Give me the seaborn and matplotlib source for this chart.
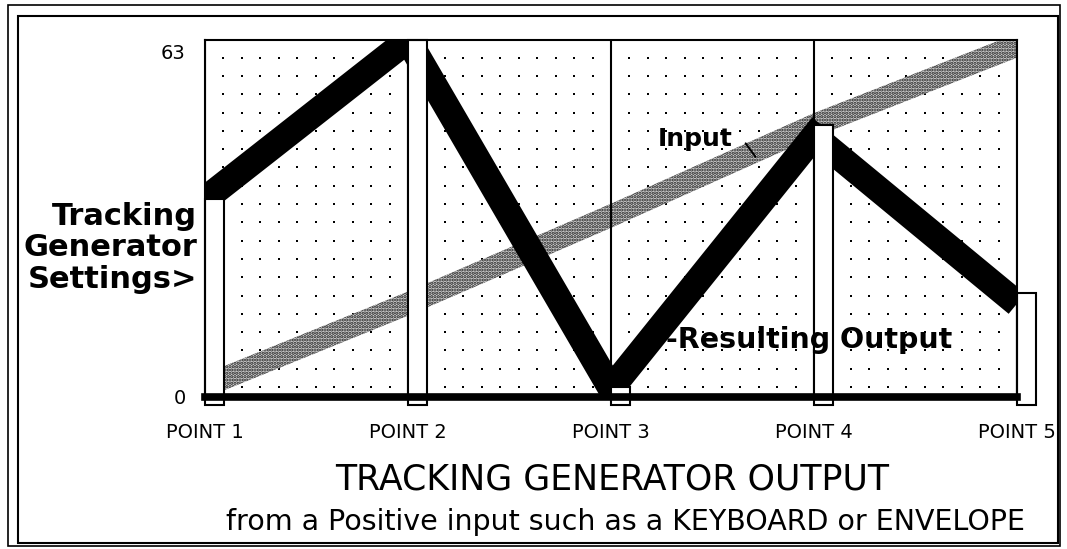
import numpy as np
import pandas as pd
import seaborn as sns
import matplotlib.pyplot as plt
from matplotlib.patches import Rectangle

sns.set_theme(style='white')
plt.rcParams['font.family'] = ['DejaVu Sans']
plt.rcParams['text.color'] = 'black'
plt.rcParams['xtick.color'] = 'black'
plt.rcParams['ytick.color'] = 'black'
plt.rcParams['hatch.linewidth'] = 1.6

points = ['POINT 1', 'POINT 2', 'POINT 3', 'POINT 4', 'POINT 5']
settings = [36, 65, 1.8, 49.5, 19]   # generator settings (white bars)
output = [36, 65, 1.5, 47.5, 17]     # resulting output (black band)
inputs = [2, 17, 33, 49.5, 64]       # positive input (stippled band)
y_ticks = [0, 63]

pos = np.arange(len(points))
df = pd.DataFrame({'pos': pos, 'output': output, 'input': inputs, 'setting': settings})

fig = plt.figure(figsize=(10.67, 5.49), dpi=100)
ax = fig.add_axes([0.1921, 0.2769, 0.7611, 0.6502])

# dotted background grid
gx = [p + k / 11 for p in range(4) for k in range(1, 11)]
gy = np.linspace(1.8, 61.8, 19)
GX, GY = np.meshgrid(gx, gy)
ax.scatter(GX.ravel(), GY.ravel(), s=3.5, marker='s', color='black', linewidths=0, zorder=1)

# input band (stippled)
ax.fill_between(df.pos, df.input - 2.2, df.input + 2.2, facecolor='#d0d0d0', edgecolor='#222222',
                hatch='.....', linewidth=0, zorder=1.2)

# resulting output band
sns.lineplot(data=df, x='pos', y='output', color='black', linewidth=19, ax=ax, zorder=1.5,
             solid_joinstyle='miter', solid_capstyle='butt')

ax.vlines(pos, 0, 65, color='black', lw=1.5, zorder=1.8)
ax.bar(pos, [s + 1.5 for s in settings], bottom=-1.5, width=0.094, align='edge',
       facecolor='white', edgecolor='black', linewidth=1.5, zorder=2, clip_on=False)

ax.set_xlim(0, 4)
ax.set_ylim(0, 65)
ax.set_xlabel('')
ax.set_ylabel('')
ax.set_xticks(pos, points, fontsize=14)
ax.set_yticks(y_ticks, [str(t) for t in y_ticks], fontsize=14)
ax.tick_params(axis='x', length=0, pad=19)
ax.tick_params(axis='y', length=0, pad=14)
for side, sp in ax.spines.items():
    sp.set_color('black')
    sp.set_linewidth(1.5)
ax.spines['bottom'].set_linewidth(5.5)

ax.text(2.23, 47, 'Input', fontweight='bold', fontsize=18, va='center', zorder=3)
ax.annotate('', xy=(2.72, 43.3), xytext=(2.655, 46.6),
            arrowprops=dict(arrowstyle='-', color='black', lw=1.4))
ax.text(2.27, 10.4, '-Resulting Output', fontweight='bold', fontsize=20.5, va='center', zorder=3)

fig.text(197 / 1067, 1 - 248 / 549, 'Tracking\nGenerator\nSettings>', ha='right', va='center',
         fontsize=22, fontweight='bold', linespacing=1.1)
fig.text(0.5736, 1 - 480 / 549, 'TRACKING GENERATOR OUTPUT', ha='center', va='center', fontsize=25)
fig.text(0.5858, 1 - 522 / 549, 'from a Positive input such as a KEYBOARD or ENVELOPE',
         ha='center', va='center', fontsize=20.5)

# double frame around the figure
fig.patches.append(Rectangle((8 / 1067, 3 / 549), 1052 / 1067, 541 / 549, transform=fig.transFigure,
                             fill=False, edgecolor='black', lw=1.2))
fig.patches.append(Rectangle((18 / 1067, 6 / 549), 1040 / 1067, 527 / 549, transform=fig.transFigure,
                             fill=False, edgecolor='black', lw=1.5))

fig.savefig('out.png', dpi=100)
